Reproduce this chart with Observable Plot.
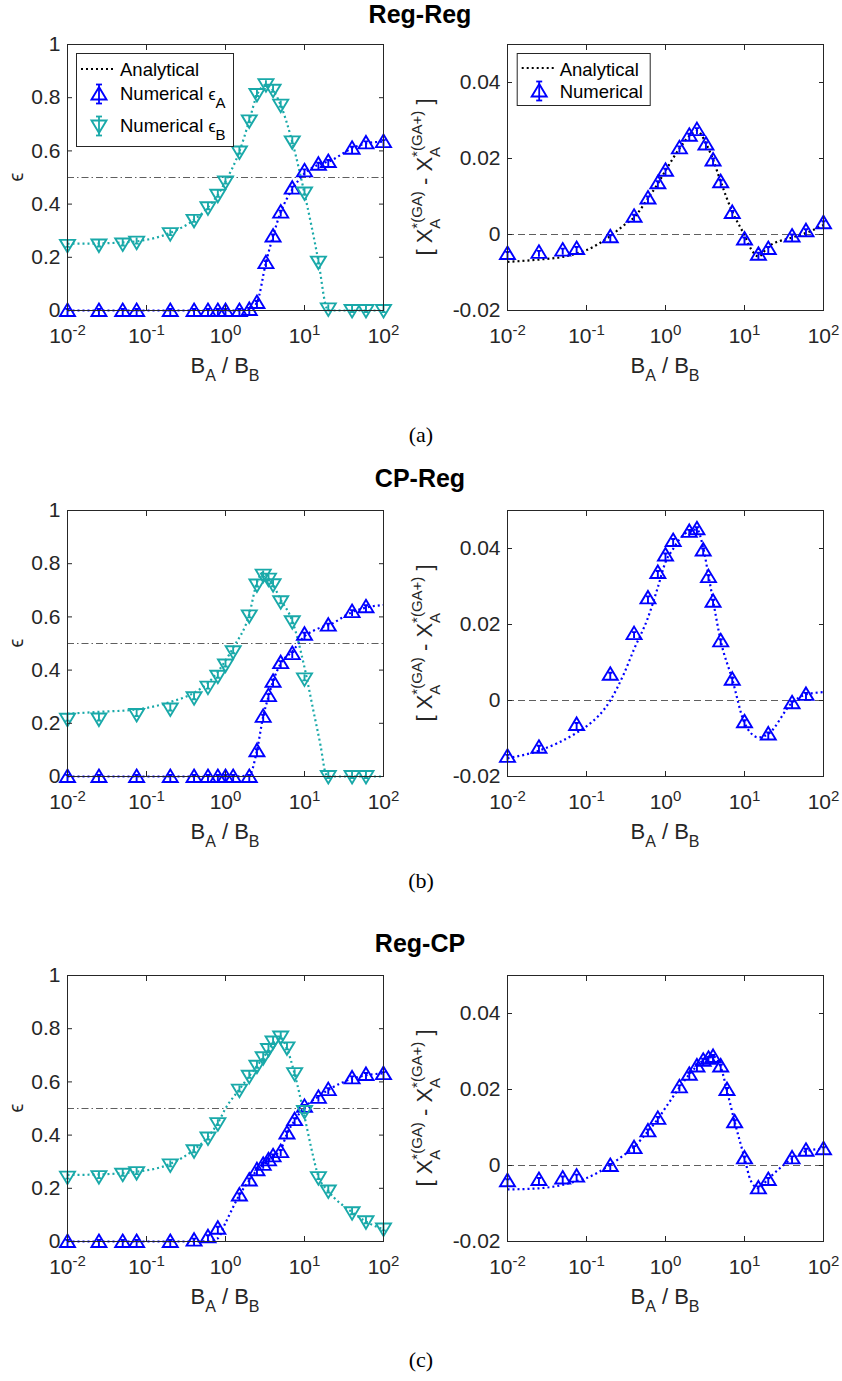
<!DOCTYPE html>
<html>
<head>
<meta charset="utf-8">
<script src="https://cdn.jsdelivr.net/npm/d3@7"></script>
<script src="https://cdn.jsdelivr.net/npm/@observablehq/plot@0.6"></script>
<style>
  html,body{margin:0;padding:0;background:#fff;}
  #page{position:relative;width:842px;height:1381px;overflow:hidden;background:#fff;}
  .pnl{position:absolute;}
  #overlay{position:absolute;left:0;top:0;pointer-events:none;overflow:visible;}
</style>
</head>
<body>
<div id="page"></div>
<script>
// ---------- shared ticks ----------
const xTickValues = [0.01, 0.1, 1, 10, 100];
const yTicksEps = [0, 0.2, 0.4, 0.6, 0.8, 1];
const yTicksDiff = [-0.02, 0, 0.02, 0.04];
const titles = ["Reg-Reg", "CP-Reg", "Reg-CP"];
const captions = ["(a)", "(b)", "(c)"];

// ---------- (a) Reg-Reg ----------
const regRegX = [0.01, 0.025, 0.05, 0.075, 0.2, 0.4, 0.6, 0.8, 1, 1.5, 2, 2.5, 3.25, 4, 5, 7, 10, 15, 20, 40, 60, 100];
const regRegEpsA = [0, 0, 0, 0, 0, 0, 0, 0, 0, 0, 0.004, 0.03, 0.18, 0.28, 0.37, 0.46, 0.525, 0.55, 0.56, 0.61, 0.63, 0.635];
const regRegEpsB = [0.245, 0.246, 0.25, 0.257, 0.289, 0.339, 0.386, 0.433, 0.483, 0.596, 0.713, 0.812, 0.849, 0.828, 0.772, 0.634, 0.442, 0.182, 0.006, 0, 0, 0];
const regRegAnX = [0.01, 0.025, 0.05, 0.075, 0.2, 0.4, 0.6, 0.8, 1, 1.5, 2, 2.5, 3.25, 4, 5, 7, 10, 15, 19, 20, 40, 60, 100];
const regRegAnEpsA = [0, 0, 0, 0, 0, 0, 0, 0, 0, 0, 0.003, 0.03, 0.18, 0.28, 0.37, 0.455, 0.515, 0.548, 0.558, 0.56, 0.61, 0.628, 0.635];
const regRegAnEpsB = [0.251, 0.252, 0.256, 0.26, 0.292, 0.341, 0.388, 0.435, 0.485, 0.598, 0.714, 0.81, 0.848, 0.828, 0.772, 0.634, 0.44, 0.185, 0.01, 0, 0, 0, 0];
const regRegDiff = [-0.005, -0.0047, -0.0041, -0.0037, -0.0006, 0.0048, 0.0096, 0.0136, 0.0169, 0.0228, 0.0261, 0.0276, 0.0238, 0.0196, 0.0139, 0.0058, -0.0012, -0.0052, -0.0037, -0.0004, 0.001, 0.0031];
const regRegAnDiffX = [0.01, 0.025, 0.05, 0.075, 0.1, 0.2, 0.3, 0.4, 0.6, 0.8, 1, 1.5, 2, 2.5, 3.25, 4, 5, 7, 10, 12, 15, 20, 40, 60, 100];
const regRegAnDiff = [-0.0072, -0.0066, -0.0059, -0.005, -0.0041, -0.0004, 0.0025, 0.0045, 0.0095, 0.0134, 0.0168, 0.0226, 0.0259, 0.0273, 0.024, 0.0197, 0.0139, 0.006, -0.0002, -0.0037, -0.0058, -0.0032, -0.0008, 0.0004, 0.0025];

// ---------- (b) CP-Reg ----------
const cpRegX = [0.01, 0.025, 0.075, 0.2, 0.4, 0.6, 0.8, 1, 1.25, 2, 2.5, 3, 3.5, 4, 5, 7, 10, 20, 40, 60];
const cpRegEpsA = [0, 0, 0, 0, 0, 0, 0, 0, 0, 0, 0.097, 0.226, 0.304, 0.358, 0.428, 0.462, 0.535, 0.569, 0.62, 0.638];
const cpRegEpsB = [0.215, 0.216, 0.233, 0.254, 0.296, 0.336, 0.377, 0.419, 0.469, 0.604, 0.72, 0.757, 0.742, 0.721, 0.657, 0.582, 0.367, 0, 0, 0];
const cpRegAnX = [0.01, 0.025, 0.075, 0.2, 0.4, 0.6, 0.8, 1, 1.25, 2, 2.5, 3, 3.5, 4, 5, 7, 10, 13, 16, 18.5, 20, 40, 60, 100];
const cpRegAnEpsA = [0, 0, 0, 0, 0, 0, 0, 0, 0, 0.005, 0.097, 0.226, 0.3, 0.358, 0.425, 0.47, 0.527, 0.548, 0.56, 0.566, 0.569, 0.618, 0.635, 0.645];
const cpRegAnEpsB = [0.236, 0.243, 0.252, 0.28, 0.315, 0.352, 0.394, 0.436, 0.484, 0.61, 0.73, 0.767, 0.745, 0.72, 0.665, 0.585, 0.41, 0.245, 0.115, 0.012, 0, 0, 0, 0];
const cpRegDiff = [-0.0147, -0.0123, -0.0063, 0.0069, 0.0176, 0.027, 0.0337, 0.0383, 0.0421, 0.0445, 0.0452, 0.0396, 0.0326, 0.0261, 0.0157, 0.0056, -0.0056, -0.0088, -0.0006, 0.0016];
const cpRegAnDiffX = [0.01, 0.025, 0.075, 0.1, 0.2, 0.3, 0.4, 0.6, 0.8, 1, 1.25, 1.5, 2, 2.5, 3, 3.5, 4, 5, 7, 10, 15, 20, 40, 60, 100];
const cpRegAnDiff = [-0.0152, -0.0132, -0.0085, -0.0068, 0, 0.0072, 0.0135, 0.0218, 0.0298, 0.0364, 0.0399, 0.0424, 0.0446, 0.045, 0.0402, 0.0329, 0.0263, 0.0157, 0.0056, -0.0059, -0.0097, -0.0088, -0.0006, 0.0016, 0.0022];

// ---------- (c) Reg-CP ----------
const regCpX = [0.01, 0.025, 0.05, 0.075, 0.2, 0.4, 0.6, 0.8, 1.5, 2, 2.5, 3, 3.5, 4, 5, 6, 7.5, 10, 15, 20, 40, 60, 100];
const regCpEpsA = [0, 0, 0, 0, 0, 0.005, 0.018, 0.05, 0.175, 0.231, 0.27, 0.29, 0.307, 0.322, 0.338, 0.408, 0.458, 0.508, 0.542, 0.571, 0.615, 0.628, 0.631];
const regCpEpsB = [0.242, 0.244, 0.253, 0.259, 0.288, 0.341, 0.389, 0.443, 0.569, 0.621, 0.659, 0.691, 0.722, 0.75, 0.769, 0.728, 0.631, 0.489, 0.24, 0.19, 0.108, 0.074, 0.047];
const regCpAnX = [0.01, 0.025, 0.05, 0.075, 0.2, 0.4, 0.6, 0.8, 1, 1.5, 2, 2.5, 3, 3.5, 4, 5, 6, 7.5, 10, 12, 15, 20, 40, 60, 100];
const regCpAnEpsA = [0, 0, 0, 0, 0, 0, 0.001, 0.012, 0.07, 0.175, 0.23, 0.268, 0.288, 0.305, 0.32, 0.345, 0.405, 0.455, 0.505, 0.525, 0.545, 0.57, 0.612, 0.625, 0.632];
const regCpAnEpsB = [0.25, 0.252, 0.257, 0.262, 0.292, 0.345, 0.393, 0.445, 0.5, 0.572, 0.622, 0.66, 0.69, 0.72, 0.745, 0.765, 0.725, 0.63, 0.47, 0.36, 0.245, 0.19, 0.11, 0.075, 0.045];
const regCpDiff = [-0.004, -0.0037, -0.0033, -0.0028, 0, 0.0047, 0.0091, 0.0124, 0.0207, 0.024, 0.0262, 0.0277, 0.0282, 0.0287, 0.0262, 0.02, 0.0115, 0.002, -0.0059, -0.0037, 0.002, 0.004, 0.0044];
const regCpAnDiffX = [0.01, 0.025, 0.05, 0.075, 0.1, 0.2, 0.3, 0.4, 0.6, 0.8, 1, 1.5, 2, 2.5, 3, 3.5, 4, 5, 6, 7.5, 10, 12, 15, 20, 40, 60, 100];
const regCpAnDiff = [-0.0063, -0.006, -0.0051, -0.0041, -0.0033, 0.0002, 0.0028, 0.0049, 0.009, 0.0122, 0.0152, 0.0205, 0.024, 0.0262, 0.0277, 0.0283, 0.0287, 0.026, 0.0197, 0.0115, 0.002, -0.004, -0.006, -0.0035, 0.0018, 0.0038, 0.0044];

// ---------- styling ----------
const BLUE = "#0000ff", TEAL = "#19a9a9", BLACK = "#000000", AXIS = "#262626";
const FONT = "'Liberation Sans', Arial, Helvetica, sans-serif";
const SVGNS = "http://www.w3.org/2000/svg";

// triangle markers with a tiny error bar inside (MATLAB errorbar look)
const triUp = {draw(c) {
  c.moveTo(0, -7); c.lineTo(7.5, 5.5); c.lineTo(-7.5, 5.5); c.closePath();
  c.moveTo(0, -1.5); c.lineTo(0, 4.5);
  c.moveTo(-2, -1.5); c.lineTo(2, -1.5);
}};
const triDown = {draw(c) {
  c.moveTo(0, 7); c.lineTo(7.5, -5.5); c.lineTo(-7.5, -5.5); c.closePath();
  c.moveTo(0, 1.5); c.lineTo(0, -4.5);
  c.moveTo(-2, 1.5); c.lineTo(2, 1.5);
}};

const rows = (xs, ys) => xs.map((x, i) => ({x, y: ys[i]}));
const fmtNum = d => String(+d.toFixed(3));

function el(tag, attrs, parent) {
  const e = document.createElementNS(SVGNS, tag);
  for (const k in attrs) e.setAttribute(k, attrs[k]);
  if (parent) parent.appendChild(e);
  return e;
}
// rich text: parts = [{t, size, dy, dx}]
function rich(parent, attrs, parts) {
  const t = el("text", attrs, parent);
  for (const p of parts) {
    const s = el("tspan", {"font-size": p.size}, t);
    if (p.dy) s.setAttribute("dy", p.dy);
    if (p.dx) s.setAttribute("dx", p.dx);
    s.textContent = p.t;
  }
  return t;
}

const PLOT_TOP = 20, PLOT_H = 266, MB = 70;
function panel({left, yDomain, yTicks, refY, refDash, analytic, numeric}) {
  const mL = left ? 67 : 86, mR = left ? 38 : 19, W = 421;
  const svg = Plot.plot({
    width: W, height: PLOT_TOP + PLOT_H + MB,
    marginLeft: mL, marginRight: mR, marginTop: PLOT_TOP, marginBottom: MB,
    style: {fontFamily: FONT, fontSize: "21px", color: AXIS, background: "transparent", overflow: "visible"},
    x: {type: "log", domain: [0.01, 100], label: null},
    y: {domain: yDomain, label: null},
    marks: [
      Plot.ruleY([refY], {stroke: "#4d4d4d", strokeWidth: 0.9, strokeDasharray: refDash}),
      ...analytic.map(s => Plot.line(rows(s.x, s.y), {x: "x", y: "y", stroke: s.color, strokeWidth: 2.2, strokeDasharray: "2,3", strokeLinecap: "butt", curve: "monotone-x"})),
      ...numeric.map(s => Plot.dot(rows(s.x, s.y), {x: "x", y: "y", stroke: s.color, fill: "none", strokeWidth: 1.9, symbol: s.symbol})),
      Plot.frame({stroke: AXIS, strokeWidth: 1}),
      Plot.axisX(xTickValues, {anchor: "bottom", tickSize: 0, tickPadding: 18, tickFormat: d => "10^" + Math.round(Math.log10(d)), label: null}),
      Plot.axisX(xTickValues, {anchor: "bottom", tickSize: -5, tickFormat: () => "", label: null, stroke: AXIS}),
      Plot.axisX(xTickValues, {anchor: "top", tickSize: -5, tickFormat: () => "", label: null, stroke: AXIS}),
      Plot.axisY(yTicks, {anchor: "left", tickSize: 0, tickPadding: 7, tickFormat: fmtNum, label: null}),
      Plot.axisY(yTicks, {anchor: "left", tickSize: -5, tickFormat: () => "", label: null, stroke: AXIS}),
      Plot.axisY(yTicks, {anchor: "right", tickSize: -5, tickFormat: () => "", label: null, stroke: AXIS})
    ]
  });
  // superscript exponents on log ticks
  svg.querySelectorAll('g[aria-label="x-axis tick label"] text').forEach(t => {
    const s = t.textContent;
    if (!s.includes("^")) return;
    const [b, e] = s.split("^");
    t.textContent = "";
    const t1 = el("tspan", {}, t); t1.textContent = b;
    const t2 = el("tspan", {"font-size": "15px", dy: "-8"}, t); t2.textContent = e;
  });
  const cx = mL + (W - mL - mR) / 2;
  // x label B_A / B_B
  rich(svg, {x: cx, y: PLOT_TOP + PLOT_H + 63, "text-anchor": "middle", fill: AXIS, "font-family": FONT}, [
    {t: "B", size: "22px"}, {t: "A", size: "16px", dy: "8"},
    {t: " / B", size: "22px", dy: "-8"}, {t: "B", size: "16px", dy: "8"}
  ]);
  const cy = PLOT_TOP + PLOT_H / 2;
  if (left) {
    rich(svg, {transform: `translate(23,${cy}) rotate(-90)`, "text-anchor": "middle", fill: AXIS, "font-family": FONT}, [
      {t: "\u03F5", size: "20px"}
    ]);
  } else {
    rich(svg, {transform: `translate(11,${cy}) rotate(-90)`, "text-anchor": "middle", fill: AXIS, "font-family": FONT}, [
      {t: "[ X", size: "22px"},
      {t: "A", size: "15px", dy: "8"},
      {t: "*(GA)", size: "15px", dx: "-10", dy: "-18"},
      {t: " - X", size: "22px", dy: "10"},
      {t: "A", size: "15px", dy: "8"},
      {t: "*(GA+)", size: "15px", dx: "-10", dy: "-18"},
      {t: " ]", size: "22px", dy: "10"}
    ]);
  }
  return svg;
}

const page = document.getElementById("page");
const rowTops = [24.3, 490, 955];
const datasets = [
  {
    epsNum: [{x: regRegX, y: regRegEpsA, color: BLUE, symbol: triUp}, {x: regRegX, y: regRegEpsB, color: TEAL, symbol: triDown}],
    epsAn: [{x: regRegAnX, y: regRegAnEpsA, color: BLUE}, {x: regRegAnX, y: regRegAnEpsB, color: TEAL}],
    diffNum: [{x: regRegX, y: regRegDiff, color: BLUE, symbol: triUp}],
    diffAn: [{x: regRegAnDiffX, y: regRegAnDiff, color: BLACK}]
  },
  {
    epsNum: [{x: cpRegX, y: cpRegEpsA, color: BLUE, symbol: triUp}, {x: cpRegX, y: cpRegEpsB, color: TEAL, symbol: triDown}],
    epsAn: [{x: cpRegAnX, y: cpRegAnEpsA, color: BLUE}, {x: cpRegAnX, y: cpRegAnEpsB, color: TEAL}],
    diffNum: [{x: cpRegX, y: cpRegDiff, color: BLUE, symbol: triUp}],
    diffAn: [{x: cpRegAnDiffX, y: cpRegAnDiff, color: BLUE}]
  },
  {
    epsNum: [{x: regCpX, y: regCpEpsA, color: BLUE, symbol: triUp}, {x: regCpX, y: regCpEpsB, color: TEAL, symbol: triDown}],
    epsAn: [{x: regCpAnX, y: regCpAnEpsA, color: BLUE}, {x: regCpAnX, y: regCpAnEpsB, color: TEAL}],
    diffNum: [{x: regCpX, y: regCpDiff, color: BLUE, symbol: triUp}],
    diffAn: [{x: regCpAnDiffX, y: regCpAnDiff, color: BLUE}]
  }
];

datasets.forEach((d, r) => {
  const L = panel({left: true, yDomain: [0, 1], yTicks: yTicksEps, refY: 0.5, refDash: "7,3,1.5,3", analytic: d.epsAn, numeric: d.epsNum});
  const R = panel({left: false, yDomain: [-0.02, 0.05], yTicks: yTicksDiff, refY: 0, refDash: "7,4", analytic: d.diffAn, numeric: d.diffNum});
  const dl = document.createElement("div"); dl.className = "pnl"; dl.style.left = "0px"; dl.style.top = rowTops[r] + "px"; dl.appendChild(L); page.appendChild(dl);
  const dr = document.createElement("div"); dr.className = "pnl"; dr.style.left = "421px"; dr.style.top = rowTops[r] + "px"; dr.appendChild(R); page.appendChild(dr);
});

// ---------- overlay: titles, captions, legends ----------
const ov = el("svg", {id: "overlay", width: 842, height: 1381, viewBox: "0 0 842 1381"});
page.appendChild(ov);
const titleBase = [23, 487, 952];
const capBase = [442, 888, 1367];
titles.forEach((t, i) => {
  const tx = el("text", {x: 420, y: titleBase[i], "text-anchor": "middle", "font-family": FONT, "font-weight": "bold", "font-size": "25px", fill: "#000"}, ov);
  tx.textContent = t;
  const cp = el("text", {x: 421, y: capBase[i], "text-anchor": "middle", "font-family": "'Liberation Serif', 'DejaVu Serif', serif", "font-size": "22px", fill: "#000"}, ov);
  cp.textContent = captions[i];
});

function errIcon(g, x, y, color, down) {
  el("line", {x1: x, y1: y - 9.5, x2: x, y2: y + 9.5, stroke: color, "stroke-width": 1.8}, g);
  el("line", {x1: x - 3, y1: y - 9.5, x2: x + 3, y2: y - 9.5, stroke: color, "stroke-width": 1.8}, g);
  el("line", {x1: x - 3, y1: y + 9.5, x2: x + 3, y2: y + 9.5, stroke: color, "stroke-width": 1.8}, g);
  const d = down ? `M${x},${y + 7}L${x + 7.5},${y - 5.5}L${x - 7.5},${y - 5.5}Z` : `M${x},${y - 7}L${x + 7.5},${y + 5.5}L${x - 7.5},${y + 5.5}Z`;
  el("path", {d, fill: "none", stroke: color, "stroke-width": 1.9}, g);
}
// legend (a) left
{
  const g = el("g", {transform: "translate(76,53)", "font-family": FONT, fill: "#000"}, ov);
  el("rect", {x: 0.5, y: 0.5, width: 157, height: 93, fill: "#fff", stroke: AXIS, "stroke-width": 1}, g);
  el("line", {x1: 5, y1: 16, x2: 39, y2: 16, stroke: "#000", "stroke-width": 2.2, "stroke-dasharray": "2,3"}, g);
  const t1 = el("text", {x: 44, y: 23, "font-size": "18.5px"}, g); t1.textContent = "Analytical";
  errIcon(g, 23, 41, BLUE, false);
  rich(g, {x: 44, y: 47}, [{t: "Numerical ", size: "18.5px"}, {t: "\u03F5", size: "16px"}, {t: "A", size: "15px", dy: "8"}]);
  errIcon(g, 23, 73, TEAL, true);
  rich(g, {x: 44, y: 79}, [{t: "Numerical ", size: "18.5px"}, {t: "\u03F5", size: "16px"}, {t: "B", size: "15px", dy: "8"}]);
}
// legend (a) right
{
  const g = el("g", {transform: "translate(516.7,53)", "font-family": FONT, fill: "#000"}, ov);
  el("rect", {x: 0.5, y: 0.5, width: 133, height: 52, fill: "#fff", stroke: AXIS, "stroke-width": 1}, g);
  el("line", {x1: 5, y1: 15, x2: 40, y2: 15, stroke: "#000", "stroke-width": 2.2, "stroke-dasharray": "2,3"}, g);
  const t1 = el("text", {x: 43, y: 23, "font-size": "18.5px"}, g); t1.textContent = "Analytical";
  errIcon(g, 22.5, 38, BLUE, false);
  const t2 = el("text", {x: 43, y: 45, "font-size": "18.5px"}, g); t2.textContent = "Numerical";
}
</script>
</body>
</html>
